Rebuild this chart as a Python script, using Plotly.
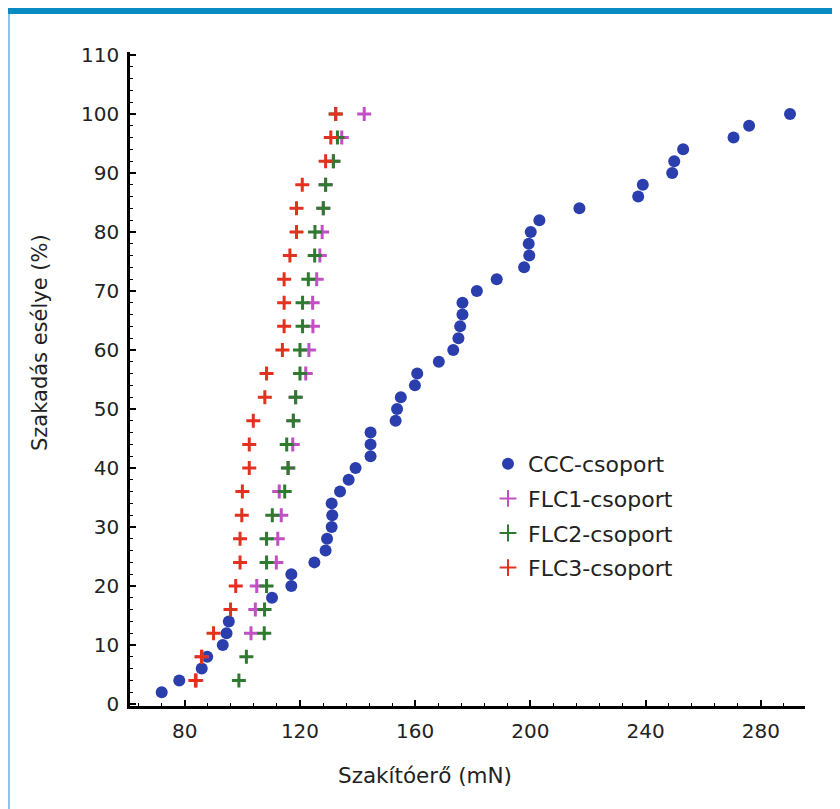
import plotly.graph_objects as go

# ---- data ----
ccc_y = [2, 4, 6, 8, 10, 12, 14, 18, 20, 22, 24, 26, 28, 30, 32, 34, 36, 38, 40, 42,
         44, 46, 48, 50, 52, 54, 56, 58, 60, 62, 64, 66, 68, 70, 72, 74, 76, 78, 80, 82,
         84, 86, 88, 90, 92, 94, 96, 98, 100]
ccc_x = [72.0, 78.1, 85.9, 87.8, 93.2, 94.5, 95.3, 110.3, 117.0, 117.0, 125.0, 128.9, 129.4,
         131.0, 131.2, 131.0, 133.9, 136.9, 139.3, 144.5, 144.5, 144.5, 153.2, 153.7, 155.0,
         159.9, 160.7, 168.2, 173.2, 175.0, 175.6, 176.4, 176.4, 181.4, 188.3, 197.8, 199.6,
         199.4, 200.1, 203.1, 217.0, 237.4, 239.0, 249.2, 249.9, 253.0, 270.5, 275.9, 290.1]

flc_y = [4, 8, 12, 16, 20, 24, 28, 32, 36, 40, 44, 48, 52, 56, 60, 64, 68, 72, 76, 80,
         84, 88, 92, 96, 100]
flc1_x = [84.0, 86.0, 103.0, 104.5, 105.0, 111.8, 112.3, 113.5, 112.8, 116.0, 117.5, 117.7,
          118.5, 122.0, 123.1, 124.5, 124.4, 125.8, 126.9, 127.7, 128.1, 128.9, 131.6, 134.5,
          142.3]
flc2_x = [98.8, 101.4, 107.6, 107.7, 108.4, 108.4, 108.4, 110.4, 114.7, 115.8, 115.4, 117.7,
          118.5, 120.0, 120.0, 120.9, 120.9, 122.9, 125.1, 125.2, 128.1, 128.9, 131.6, 133.0,
          132.4]
flc3_x = [83.7, 85.8, 90.0, 95.9, 97.7, 99.2, 99.2, 99.8, 100.0, 102.4, 102.4, 103.8, 107.8,
          108.4, 113.9, 114.5, 114.5, 114.5, 116.5, 118.8, 118.8, 120.8, 128.9, 130.7, 132.4]

names = ["CCC-csoport", "FLC1-csoport", "FLC2-csoport", "FLC3-csoport"]
x_ticks = [80, 120, 160, 200, 240, 280]
y_ticks = [0, 10, 20, 30, 40, 50, 60, 70, 80, 90, 100, 110]

FONT = "DejaVu Sans"
TXT = "#222222"

fig = go.Figure()
fig.add_trace(go.Scatter(x=ccc_x, y=ccc_y, mode="markers", name=names[0], legendgroup="a",
                         marker=dict(symbol="circle", size=12, color="#2b3eae")))
for xs, nm, col, grp in [(flc1_x, names[1], "#c24fc4", "b"),
                         (flc2_x, names[2], "#2e7b30", "c"),
                         (flc3_x, names[3], "#e2321f", "d")]:
    fig.add_trace(go.Scatter(x=xs, y=flc_y, mode="markers", name=nm, legendgroup=grp,
                             marker=dict(symbol="cross-thin", size=10, color=col,
                                         line=dict(color=col, width=3))))

OFF = 8  # page body margin
W, H = 840 - OFF, 809 - OFF
L, T = 130 - OFF, 52 - OFF
pw, ph = 675, 654
R, B = W - L - pw, H - T - ph

def px(xwin):
    return (xwin - OFF - L) / pw

def py(ywin):
    return (T + ph - (ywin - OFF)) / ph

fig.update_layout(
    width=W, height=H,
    margin=dict(l=L, r=R, t=T, b=B),
    paper_bgcolor="white", plot_bgcolor="white",
    font=dict(family=FONT, size=18, color=TXT),
    showlegend=True,
    legend=dict(x=px(488), y=py(443), xanchor="left", yanchor="top",
                font=dict(family=FONT, size=22, color=TXT),
                bgcolor="rgba(0,0,0,0)", traceorder="grouped", tracegroupgap=3,
                itemsizing="constant"),
    xaxis=dict(range=[61.0, 295.3], tickmode="array", tickvals=x_ticks,
               ticktext=[str(v) for v in x_ticks],
               showgrid=False, zeroline=False, showline=True, linecolor="black", linewidth=2.5,
               ticks="inside", ticklen=6, tickwidth=1.5, tickcolor="black",
               ticklabelstandoff=5,
               minor=dict(dtick=8, tick0=0, ticks="inside", ticklen=3, tickwidth=1.2,
                          tickcolor="black", showgrid=False),
               tickfont=dict(family=FONT, size=20, color=TXT)),
    yaxis=dict(range=[-0.34, 110.5], tickmode="array", tickvals=y_ticks,
               ticktext=[str(v) for v in y_ticks],
               showgrid=False, zeroline=False, showline=True, linecolor="black", linewidth=2.5,
               ticks="inside", ticklen=6, tickwidth=1.5, tickcolor="black",
               ticklabelstandoff=4,
               minor=dict(dtick=2, tick0=0, ticks="inside", ticklen=3, tickwidth=1.2,
                          tickcolor="black", showgrid=False),
               tickfont=dict(family=FONT, size=20, color=TXT)),
    annotations=[
        dict(text="Szakítóerő (mN)", xref="paper", yref="paper", x=px(425), y=py(775),
             xanchor="center", yanchor="middle", showarrow=False,
             font=dict(family=FONT, size=21.5, color=TXT)),
        dict(text="Szakadás esélye (%)", xref="paper", yref="paper", x=px(40), y=py(343),
             xanchor="center", yanchor="middle", showarrow=False, textangle=-90,
             font=dict(family=FONT, size=21, color=TXT)),
    ],
    shapes=[
        dict(type="rect", xref="paper", yref="paper", x0=px(OFF), x1=px(840 + OFF),
             y0=py(OFF + 6), y1=py(OFF), fillcolor="#0a8bc2", line=dict(width=0), layer="above"),
        dict(type="line", xref="paper", yref="paper", x0=px(OFF + 1), x1=px(OFF + 1),
             y0=py(809 + OFF), y1=py(OFF + 6),
             line=dict(color="#86c6e6", width=2), layer="above"),
    ],
)

fig.write_html("out.html")
